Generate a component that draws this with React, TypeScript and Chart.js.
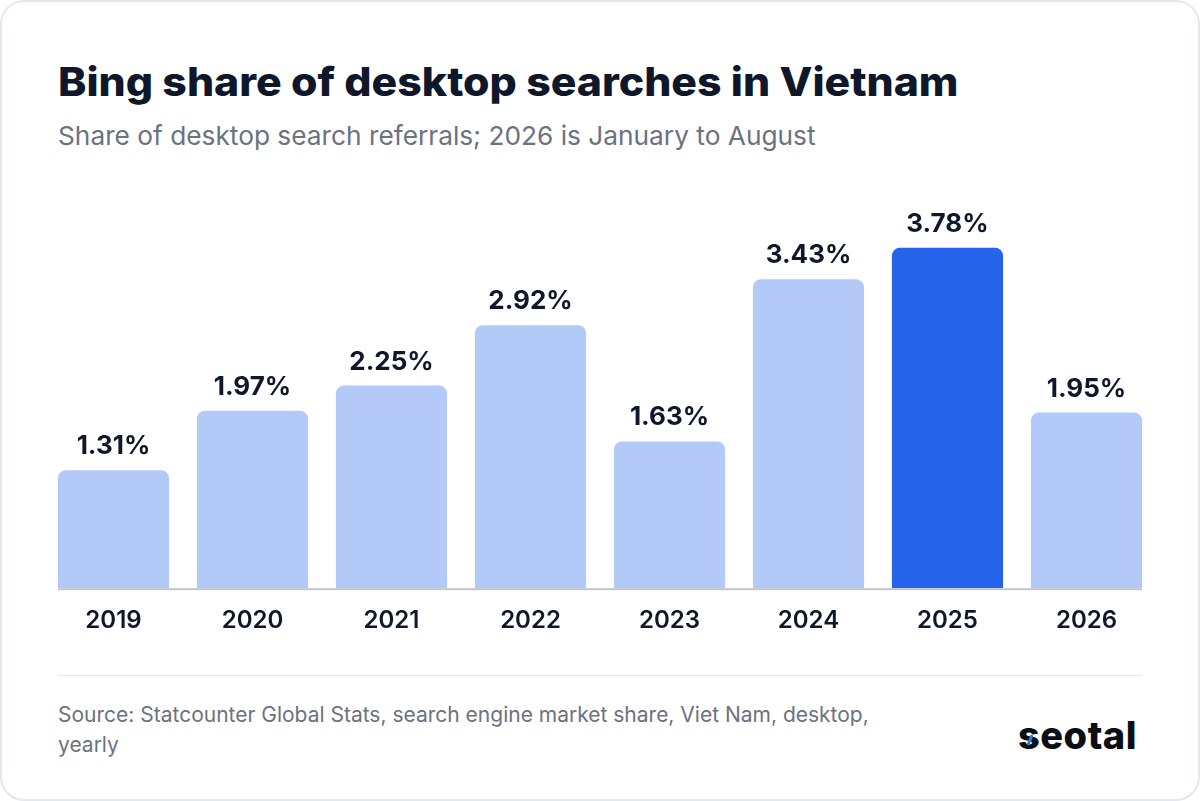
import { useEffect, useRef } from "react";
import { Chart, registerables } from "chart.js";

Chart.register(...registerables);

const years = ["2019", "2020", "2021", "2022", "2023", "2024", "2025", "2026"];
const shares = [1.31, 1.97, 2.25, 2.92, 1.63, 3.43, 3.78, 1.95];
const highlightYear = "2025";

const INK = "#0f172a";
const GREY = "#6b7280";

// value labels above the bars + baseline that only runs under the bars
const barDecor = {
  id: "barDecor",
  afterDatasetsDraw(chart: Chart) {
    const { ctx } = chart;
    const bars = chart.getDatasetMeta(0).data as any[];
    ctx.save();
    ctx.fillStyle = INK;
    ctx.font = "700 26px Inter";
    ctx.textAlign = "center";
    ctx.textBaseline = "alphabetic";
    bars.forEach((bar, i) => {
      ctx.fillText(shares[i].toFixed(2) + "%", bar.x, bar.y - 16);
    });
    const first = bars[0];
    const last = bars[bars.length - 1];
    const base = chart.scales.y.getPixelForValue(0);
    ctx.fillStyle = "#c4c5cc";
    ctx.fillRect(first.x - first.width / 2, base, last.x + last.width / 2 - (first.x - first.width / 2), 2);
    ctx.restore();
  },
};

export default function App() {
  const chartRef = useRef<HTMLCanvasElement | null>(null);

  useEffect(() => {
    if (!chartRef.current) return;
    document.body.style.margin = "0";

    const chart = new Chart(chartRef.current, {
      type: "bar",
      data: {
        labels: years,
        datasets: [
          {
            data: shares,
            backgroundColor: years.map((y) => (y === highlightYear ? "#2563eb" : "#b3c9f8")),
            borderRadius: { topLeft: 8, topRight: 8, bottomLeft: 0, bottomRight: 0 },
            borderSkipped: false,
            categoryPercentage: 1,
            barPercentage: 0.8,
          },
        ],
      },
      options: {
        responsive: false,
        animation: false,
        layout: { padding: 0 },
        plugins: { legend: { display: false }, tooltip: { enabled: false } },
        scales: {
          x: {
            grid: { display: false },
            border: { display: false },
            ticks: {
              color: INK,
              font: { family: "Inter", size: 24, weight: 600 },
              padding: 10,
              maxRotation: 0,
            },
          },
          y: { display: false, min: 0, max: 4.5 },
        },
      },
      plugins: [barDecor],
    });

    return () => {
      chart.destroy();
    };
  }, []);

  return (
    <div
      style={{
        position: "relative",
        width: 1200,
        height: 801,
        boxSizing: "border-box",
        border: "2px solid #e2e8f0",
        borderRadius: 24,
        background: "#fff",
        overflow: "hidden",
        fontFamily: "Inter",
      }}
    >
      <div
        style={{
          position: "absolute",
          left: 56,
          top: 54,
          fontWeight: 800,
          fontSize: 40,
          lineHeight: "52px",
          color: INK,
          whiteSpace: "nowrap",
          transform: "scaleX(1.069)",
          transformOrigin: "left center",
        }}
      >
        Bing share of desktop searches in Vietnam
      </div>
      <div
        style={{
          position: "absolute",
          left: 56,
          top: 118,
          fontSize: 26.27,
          lineHeight: "32px",
          color: GREY,
          whiteSpace: "nowrap",
        }}
      >
        Share of desktop search referrals; 2026 is January to August
      </div>

      <canvas
        ref={chartRef}
        width={1112}
        height={462}
        style={{ position: "absolute", left: 42, top: 181 }}
      />

      <div style={{ position: "absolute", left: 56, top: 673, width: 1084, height: 1, background: "#e5e7eb" }} />
      <div
        style={{
          position: "absolute",
          left: 56,
          top: 698,
          width: 830,
          fontSize: 21,
          lineHeight: "30px",
          color: GREY,
        }}
      >
        Source: Statcounter Global Stats, search engine market share, Viet Nam, desktop, yearly
      </div>
      <div
        style={{
          position: "absolute",
          left: 1016,
          top: 711,
          fontWeight: 800,
          fontSize: 38,
          lineHeight: "44px",
          letterSpacing: 0.5,
          color: "#0b0f14",
        }}
      >
        seotal
      </div>
      <svg
        width={14}
        height={16}
        style={{ position: "absolute", left: 1021, top: 730 }}
      >
        <path d="M9 3 L5 13" stroke="#2f80ed" strokeWidth={3} />
      </svg>
    </div>
  );
}
